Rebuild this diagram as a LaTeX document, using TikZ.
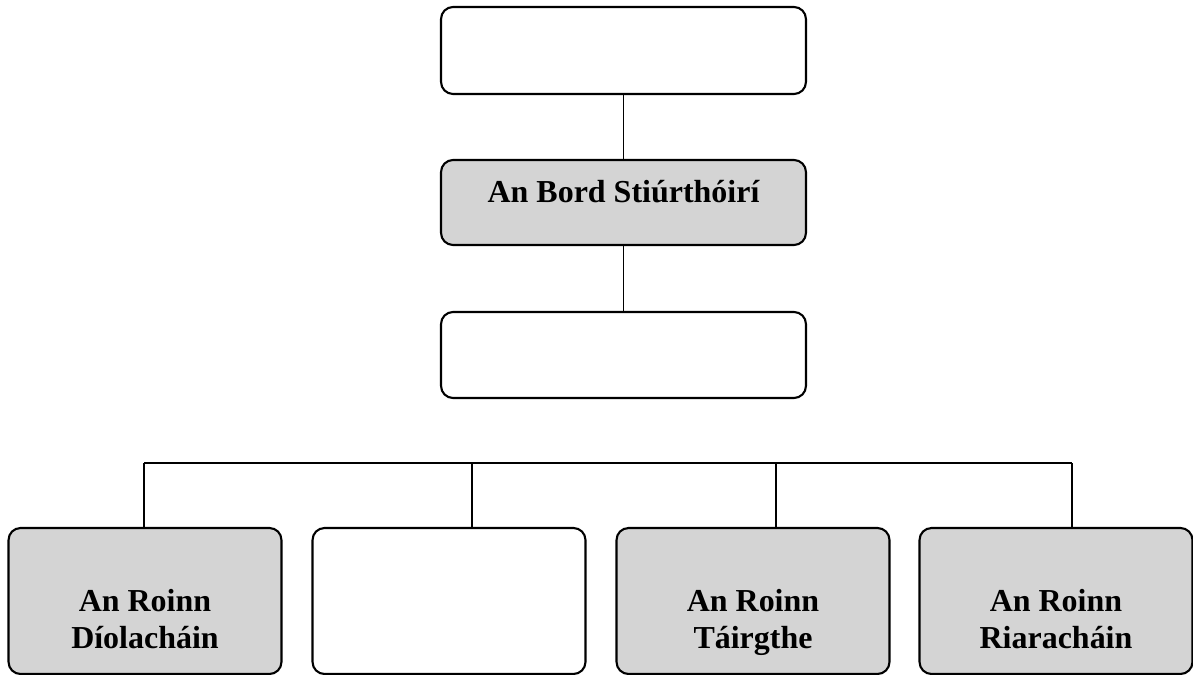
\documentclass[tikz,border=0pt]{standalone}
\usepackage{fontspec}
\setmainfont{Liberation Serif}
\begin{document}
\begin{tikzpicture}[x=0.02cm, y=-0.02cm]
			\tikzstyle{box} = [rectangle,draw,line width=1.2pt,rounded corners=0.24cm,minimum width=7.3cm];
			\tikzstyle{low} = [box,minimum width=5.46cm,minimum height=2.92cm];
			\tikzstyle{lbl} = [align=center,anchor=base,inner sep=0pt,font=\fontsize{18.2}{21}\selectfont\bfseries];
			\useasboundingbox (0,0) rectangle (1193,675);
			
			\node[box,minimum height=1.74cm](top)at(623.5,50.5){};
			\node[box,fill=black!17,minimum height=1.7cm](bord)at(623.5,202.5){};
			\node[box,minimum height=1.72cm](mid)at(623.5,355){};
			\node[lbl](t0)at(623.5,203){An Bord Stiúrthóirí};
			
			\foreach \n/\x/\f in {1/145/black!17,2/449/white,3/753/black!17,4/1056/black!17}{
				\node[low,fill=\f](r\n) at (\x,601){};
			};
			\node[lbl](t1)at(145,648){An Roinn\\Díolacháin};
			\node[lbl](t3)at(753,648){An Roinn\\Táirgthe};
			\node[lbl](t4)at(1056,648){An Roinn\\Riaracháin};
			
			\coordinate (h1) at (144,463);
			\coordinate (h2) at (472,463);
			\coordinate (h3) at (776,463);
			\coordinate (h4) at (1072,463);
			
			\draw[line width=1pt] (top) -- (bord)
			(bord) -- (mid)
			(h1) -- (h4);
			\foreach \i in {1,...,4}{
				\draw[line width=1pt] (h\i) -- (h\i |- r\i.north);
			};
\end{tikzpicture}
\end{document}
